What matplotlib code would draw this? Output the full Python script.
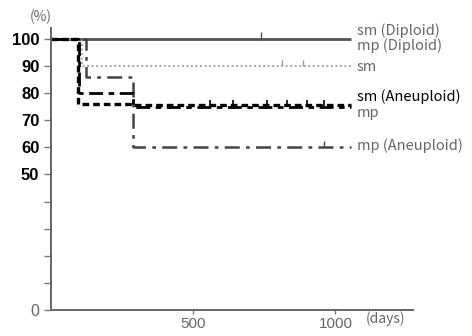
import matplotlib
matplotlib.use("Agg")
import matplotlib.pyplot as plt

# ---- data ----
diploid_days = [0, 1056]
diploid_vals = [100, 100]
diploid_censor = [740]

sm_days = [0, 112, 1056]
sm_vals = [100, 90, 90]
sm_censor = [813, 887]

mp_days = [0, 95, 288, 1056]
mp_vals = [100, 76, 75.5, 75.5]

sm_aneu_days = [0, 100, 288, 1056]
sm_aneu_vals = [100, 80, 75, 75]
sm_aneu_censor = [560, 640, 760, 830, 900, 960]

mp_aneu_days = [0, 125, 288, 1056]
mp_aneu_vals = [100, 86, 60, 60]
mp_aneu_censor = [960]

series_labels = ["sm (Diploid)", "mp (Diploid)", "sm", "sm (Aneuploid)", "mp", "mp (Aneuploid)"]
label_y = [103, 97.4, 89.7, 78.6, 72.7, 60.5]
label_colors = ["#666666", "#666666", "#666666", "#000000", "#666666", "#666666"]

yticks = [0, 10, 20, 30, 40, 50, 60, 70, 80, 90, 100]
ytick_labels = ["0", "", "", "", "", "50", "60", "70", "80", "90", "100"]
xticks = [500, 1000]
xtick_labels = ["500", "1000"]

# ---- figure ----
fig = plt.figure(figsize=(4.72, 3.36), dpi=100)
ax = fig.add_axes([50.5 / 472, 1 - 310 / 336, (413 - 50.5) / 472, 282 / 336])
ax.set_xlim(0, 1272)
ax.set_ylim(0, 104)

cjk = ["Noto Sans CJK JP", "DejaVu Sans"]

ax.step(diploid_days, diploid_vals, where="post", color="#555555", lw=2.0, solid_capstyle="butt")
ax.plot(diploid_censor, [101.2], marker="|", ms=6, color="#555555", mew=1)

ax.step(sm_days, sm_vals, where="post", color="#9a9a9a", lw=1.3, linestyle=(0, (1, 1.5)))
ax.plot(sm_censor, [91.2] * len(sm_censor), marker="|", ms=5, color="#9a9a9a", mew=1, lw=0)

ax.step(mp_aneu_days, mp_aneu_vals, where="post", color="#444444", lw=1.8,
        linestyle=(0, (6, 2.5, 1.5, 2.5)))
ax.plot(mp_aneu_censor, [61.2], marker="|", ms=5, color="#444444", mew=1, lw=0)

ax.step(sm_aneu_days, sm_aneu_vals, where="post", color="#000000", lw=2.0,
        linestyle=(0, (5, 2, 2, 2)))
ax.plot(sm_aneu_censor, [76.3] * len(sm_aneu_censor), marker="|", ms=4, color="#000000", mew=1.2, lw=0)

ax.step(mp_days, mp_vals, where="post", color="#000000", lw=2.4, linestyle=(0, (2, 1.2)))

for lab, yv, c in zip(series_labels, label_y, label_colors):
    ax.text(1075, yv, lab, color=c, fontsize=10.5, family=cjk, va="center", ha="left", clip_on=False)

# axes styling
for s in ["top", "right"]:
    ax.spines[s].set_visible(False)
for s in ["left", "bottom"]:
    ax.spines[s].set_color("#666666")
    ax.spines[s].set_linewidth(1.4)

ax.set_yticks(yticks)
ax.set_yticklabels(ytick_labels)
ax.tick_params(axis="y", direction="out", length=5, width=1, color="#777777", pad=3)
for t, lab in zip(ax.get_yticklabels(), ytick_labels):
    if lab == "0":
        t.set_color("#666666")
        t.set_fontsize(11.5)
    else:
        t.set_fontweight("bold")
        t.set_fontsize(12)
        t.set_color("#000000")
    t.set_family("Liberation Sans")

ax.set_xticks(xticks)
ax.set_xticklabels(xtick_labels)
ax.tick_params(axis="x", direction="out", length=3, width=1, color="#777777", pad=2,
               labelsize=11, labelcolor="#666666")
for t in ax.get_xticklabels():
    t.set_family("Liberation Sans")

fig.text(30 / 472, 1 - 17 / 336, "(%)", color="#666666", fontsize=10, family=cjk, va="center", ha="left")
fig.text(366 / 472, 1 - 319 / 336, "(days)", color="#666666", fontsize=10, family=cjk, va="center", ha="left")

fig.savefig("out.png", dpi=100)
